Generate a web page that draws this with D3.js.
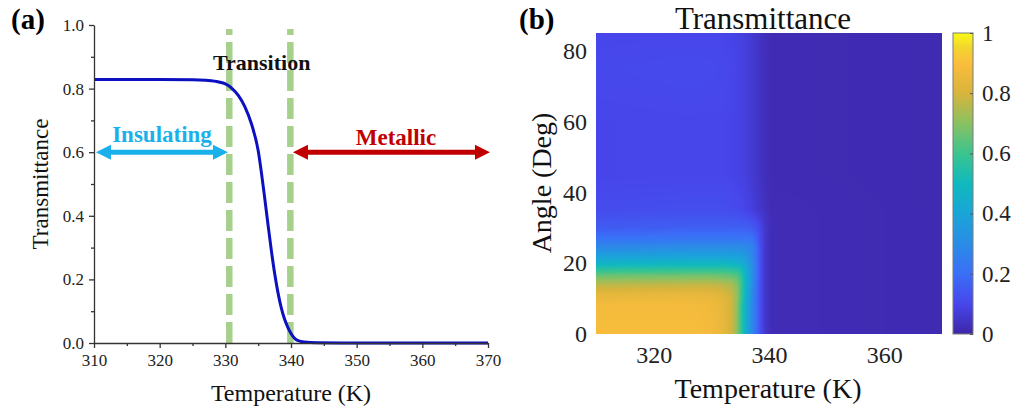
<!DOCTYPE html>
<html>
<head>
<meta charset="utf-8">
<script src="https://cdn.jsdelivr.net/npm/d3@7"></script>
<style>
  body { margin: 0; background: #fff; }
  svg { display: block; font-family: "Liberation Serif", "Times New Roman", serif; }
</style>
</head>
<body>
<div id="chart"></div>
<script>
// ---- panel (a): transmittance vs temperature ----
const curveTemps = [310, 315, 320, 325, 327, 329, 330, 331, 332, 333, 334, 335, 335.5, 336, 336.5,
  337, 337.5, 338, 338.5, 339, 339.5, 340, 340.5, 341, 342, 344, 350, 360, 370]
const curveTrans = [0.829, 0.829, 0.829, 0.828, 0.826, 0.821, 0.815, 0.801, 0.778, 0.742, 0.688,
  0.605, 0.535, 0.455, 0.372, 0.292, 0.220, 0.160, 0.112, 0.076, 0.050, 0.030, 0.016, 0.008,
  0.003, 0.001, 0, 0, 0]
const transitionBounds = [330.6, 339.9]
const xTicksA = [310, 320, 330, 340, 350, 360, 370]
const yTicksA = [0, 0.2, 0.4, 0.6, 0.8, 1.0]

// ---- panel (b): transmittance map, angle vs temperature ----
const heatTemps = [310, 326, 330, 332, 333.5, 334.5, 335.2, 336, 337, 337.8, 338.6, 339.4, 340.5, 370]
const heatAngles = [0, 8, 11, 14, 16.5, 18.5, 20, 22, 24.5, 27, 30, 35, 45, 60, 75, 85]
const heatValues = [
  [.89, .89, .88, .85, .79, .70, .58, .44, .30, .20, .11, .05, .02, .015],
  [.88, .88, .87, .84, .79, .70, .58, .44, .30, .20, .11, .05, .02, .015],
  [.84, .85, .84, .82, .78, .71, .60, .46, .31, .20, .11, .05, .02, .015],
  [.76, .77, .77, .76, .74, .69, .60, .47, .32, .21, .11, .05, .02, .015],
  [.66, .67, .67, .66, .65, .63, .57, .46, .33, .22, .11, .05, .02, .015],
  [.55, .56, .56, .56, .55, .54, .51, .43, .32, .22, .11, .05, .02, .015],
  [.47, .48, .48, .48, .47, .46, .44, .39, .31, .22, .11, .05, .02, .015],
  [.38, .39, .39, .39, .38, .38, .37, .35, .29, .21, .11, .05, .02, .015],
  [.29, .30, .30, .30, .30, .30, .30, .29, .27, .20, .11, .05, .02, .015],
  [.21, .22, .22, .22, .22, .22, .22, .22, .21, .17, .10, .05, .02, .015],
  [.15, .16, .16, .16, .16, .16, .16, .16, .15, .13, .09, .05, .02, .015],
  [.115, .12, .12, .12, .115, .11, .105, .095, .08, .065, .05, .035, .02, .015],
  [.098, .10, .10, .10, .095, .09, .085, .078, .064, .05, .037, .027, .018, .015],
  [.098, .10, .10, .10, .095, .09, .085, .078, .064, .05, .037, .027, .018, .015],
  [.105, .11, .108, .105, .10, .092, .086, .078, .064, .05, .037, .027, .018, .015],
  [.098, .10, .10, .098, .093, .088, .082, .075, .062, .048, .036, .026, .018, .015]
]
const xTicksB = [320, 340, 360]
const yTicksB = [0, 20, 40, 60, 80]
const cbarTicks = [0, 0.2, 0.4, 0.6, 0.8, 1]

// parula-like colormap
const cmapStops = [0, .1, .2, .3, .4, .5, .6, .7, .8, .9, .95, 1]
const cmapColors = ['#3e26a8', '#4746eb', '#3a6ff8', '#2a8ce6', '#19a5d8', '#10b9be',
  '#3bc48e', '#8ac162', '#d8b43c', '#fbbd3c', '#f2d52f', '#f9fa14']

const FONT = '"Liberation Serif", "Times New Roman", serif'
const W = 1013, H = 410
const svg = d3.select('#chart').append('svg')
  .attr('width', W).attr('height', H)
svg.append('rect').attr('width', W).attr('height', H).attr('fill', '#fff')

// ================= panel (a) =================
const xA = d3.scaleLinear().domain([310, 370]).range([94, 488])
const yA = d3.scaleLinear().domain([0, 1]).range([343, 25])

const gA = svg.append('g')

// green dashed boundaries
gA.selectAll('line.bound')
  .data(transitionBounds)
  .join('line')
  .attr('class', 'bound')
  .attr('x1', d => xA(d)).attr('x2', d => xA(d))
  .attr('y1', yA(0)).attr('y2', 29)
  .attr('stroke', '#a8d08d')
  .attr('stroke-width', 6.5)
  .attr('stroke-dasharray', '21 7')

// curve
const line = d3.line()
  .x((d, i) => xA(curveTemps[i]))
  .y(d => yA(d))
  .curve(d3.curveMonotoneX)
gA.append('path')
  .datum(curveTrans)
  .attr('d', line)
  .attr('fill', 'none')
  .attr('stroke', '#0c10c0')
  .attr('stroke-width', 3)

// axes
const axA = (g) => g.attr('font-family', FONT).selectAll('text')
  .attr('font-family', FONT).attr('font-size', 17).attr('fill', '#222')

gA.append('g')
  .attr('transform', `translate(0,${yA(0)})`)
  .call(d3.axisBottom(xA).tickValues(d3.range(315, 370, 10)).tickSize(3).tickFormat(''))
  .call(g => g.select('.domain').remove())
gA.append('g')
  .attr('transform', `translate(0,${yA(0)})`)
  .call(d3.axisBottom(xA).tickValues(xTicksA).tickSize(5).tickSizeOuter(0).tickPadding(6))
  .call(axA)
gA.append('g')
  .attr('transform', `translate(${xA(310)},0)`)
  .call(d3.axisLeft(yA).tickValues(d3.range(0.1, 1, 0.2)).tickSize(3).tickFormat(''))
  .call(g => g.select('.domain').remove())
gA.append('g')
  .attr('transform', `translate(${xA(310)},0)`)
  .call(d3.axisLeft(yA).tickValues(yTicksA).tickSize(5).tickSizeOuter(0).tickPadding(5)
    .tickFormat(d3.format('.1f')))
  .call(axA)
gA.selectAll('.domain, .tick line').attr('stroke', '#333').attr('stroke-width', 1.3)

gA.append('text')
  .attr('x', xA(340)).attr('y', 401)
  .attr('font-family', FONT)
  .attr('text-anchor', 'middle').attr('font-size', 24).attr('fill', '#111')
  .text('Temperature (K)')
gA.append('text')
  .attr('transform', `translate(48,${yA(0.5)}) rotate(-90)`)
  .attr('font-family', FONT)
  .attr('text-anchor', 'middle').attr('font-size', 23).attr('fill', '#111')
  .text('Transmittance')

gA.append('text')
  .attr('x', 11).attr('y', 29)
  .attr('font-family', FONT)
  .attr('font-size', 29).attr('font-weight', 'bold')
  .text('(a)')

// arrows
function doubleArrow(g, x1, x2, y, color) {
  const head = 15, half = 7.5, shaft = 5
  g.append('path')
    .attr('d', `M${x1},${y} L${x1 + head},${y - half} L${x1 + head},${y - shaft / 2}
      L${x2 - head},${y - shaft / 2} L${x2 - head},${y - half} L${x2},${y}
      L${x2 - head},${y + half} L${x2 - head},${y + shaft / 2}
      L${x1 + head},${y + shaft / 2} L${x1 + head},${y + half} Z`)
    .attr('fill', color)
}
doubleArrow(gA, xA(310.3), xA(330.4), yA(0.6), '#1ab0ea')
doubleArrow(gA, xA(340.3), xA(370.3), yA(0.6), '#c00000')

gA.append('text')
  .attr('x', 162).attr('y', 142)
  .attr('font-family', FONT)
  .attr('text-anchor', 'middle').attr('font-size', 23).attr('font-weight', 'bold')
  .attr('fill', '#1ab0ea')
  .text('Insulating')
gA.append('text')
  .attr('x', 396).attr('y', 145)
  .attr('font-family', FONT)
  .attr('text-anchor', 'middle').attr('font-size', 23).attr('font-weight', 'bold')
  .attr('fill', '#c00000')
  .text('Metallic')
gA.append('text')
  .attr('x', 213).attr('y', 70)
  .attr('font-family', FONT)
  .attr('font-size', 22).attr('font-weight', 'bold').attr('fill', '#111')
  .text('Transition')

// ================= panel (b) =================
const xB = d3.scaleLinear().domain([310, 370]).range([596, 942])
const yB = d3.scaleLinear().domain([0, 85]).range([334, 33])
const cmap = d3.scaleLinear().domain(cmapStops).range(cmapColors)
  .interpolate(d3.interpolateRgb).clamp(true)

const gB = svg.append('g')

const hx0 = xB.range()[0], hy0 = yB.range()[1]
const hw = Math.round(xB.range()[1] - hx0), hh = Math.round(yB.range()[0] - hy0)
const canvas = document.createElement('canvas')
canvas.width = hw
canvas.height = hh
const ctx = canvas.getContext('2d')
const img = ctx.createImageData(hw, hh)
const rowScales = heatValues.map(row => d3.scaleLinear().domain(heatTemps).range(row).clamp(true))
for (let px = 0; px < hw; px++) {
  const t = xB.invert(hx0 + px + 0.5)
  const colScale = d3.scaleLinear().domain(heatAngles).range(rowScales.map(s => s(t))).clamp(true)
  for (let py = 0; py < hh; py++) {
    const c = d3.rgb(cmap(colScale(yB.invert(hy0 + py + 0.5))))
    const k = (py * hw + px) * 4
    img.data[k] = c.r
    img.data[k + 1] = c.g
    img.data[k + 2] = c.b
    img.data[k + 3] = 255
  }
}
ctx.putImageData(img, 0, 0)
gB.append('image')
  .attr('x', hx0).attr('y', hy0)
  .attr('width', hw).attr('height', hh)
  .attr('preserveAspectRatio', 'none')
  .attr('href', canvas.toDataURL())

const axB = (g) => {
  g.attr('font-family', FONT)
  g.select('.domain').remove()
  g.selectAll('.tick line').remove()
  g.selectAll('text').attr('font-family', FONT)
    .attr('font-size', 24).attr('fill', '#222')
}
gB.append('g')
  .attr('transform', `translate(0,${yB(0)})`)
  .call(d3.axisBottom(xB).tickValues(xTicksB).tickSize(0).tickPadding(12))
  .call(axB)
gB.append('g')
  .attr('transform', `translate(${xB(310)},0)`)
  .call(d3.axisLeft(yB).tickValues(yTicksB).tickSize(0).tickPadding(9))
  .call(axB)

gB.append('text')
  .attr('x', 763).attr('y', 29)
  .attr('font-family', FONT)
  .attr('text-anchor', 'middle').attr('font-size', 31).attr('fill', '#111')
  .text('Transmittance')
gB.append('text')
  .attr('x', 768).attr('y', 398)
  .attr('font-family', FONT)
  .attr('text-anchor', 'middle').attr('font-size', 28).attr('fill', '#111')
  .text('Temperature (K)')
gB.append('text')
  .attr('transform', `translate(551,183) rotate(-90)`)
  .attr('font-family', FONT)
  .attr('text-anchor', 'middle').attr('font-size', 28).attr('fill', '#111')
  .text('Angle (Deg)')
gB.append('text')
  .attr('x', 519).attr('y', 29)
  .attr('font-family', FONT)
  .attr('font-size', 29).attr('font-weight', 'bold')
  .text('(b)')

// colorbar
const cb = d3.scaleLinear().domain([0, 1]).range([334, 33])
const grad = svg.append('defs').append('linearGradient')
  .attr('id', 'parula')
  .attr('x1', 0).attr('y1', 1).attr('x2', 0).attr('y2', 0)
grad.selectAll('stop')
  .data(cmapStops)
  .join('stop')
  .attr('offset', d => d)
  .attr('stop-color', (d, i) => cmapColors[i])
gB.append('rect')
  .attr('x', 953).attr('y', cb(1))
  .attr('width', 20).attr('height', cb(0) - cb(1))
  .attr('fill', 'url(#parula)')
  .attr('stroke', '#7a7a7a').attr('stroke-width', 1)
gB.append('g')
  .attr('transform', 'translate(973,0)')
  .call(d3.axisRight(cb).tickValues(cbarTicks).tickSize(-3).tickPadding(9)
    .tickFormat(d => d === 0 || d === 1 ? d3.format('d')(d) : d3.format('.1f')(d)))
  .call(g => g.attr('font-family', FONT).select('.domain').remove())
  .call(g => g.selectAll('.tick line').attr('stroke', '#555'))
  .call(g => g.selectAll('text').attr('font-family', FONT)
    .attr('font-size', 23).attr('fill', '#222'))
</script>
</body>
</html>
